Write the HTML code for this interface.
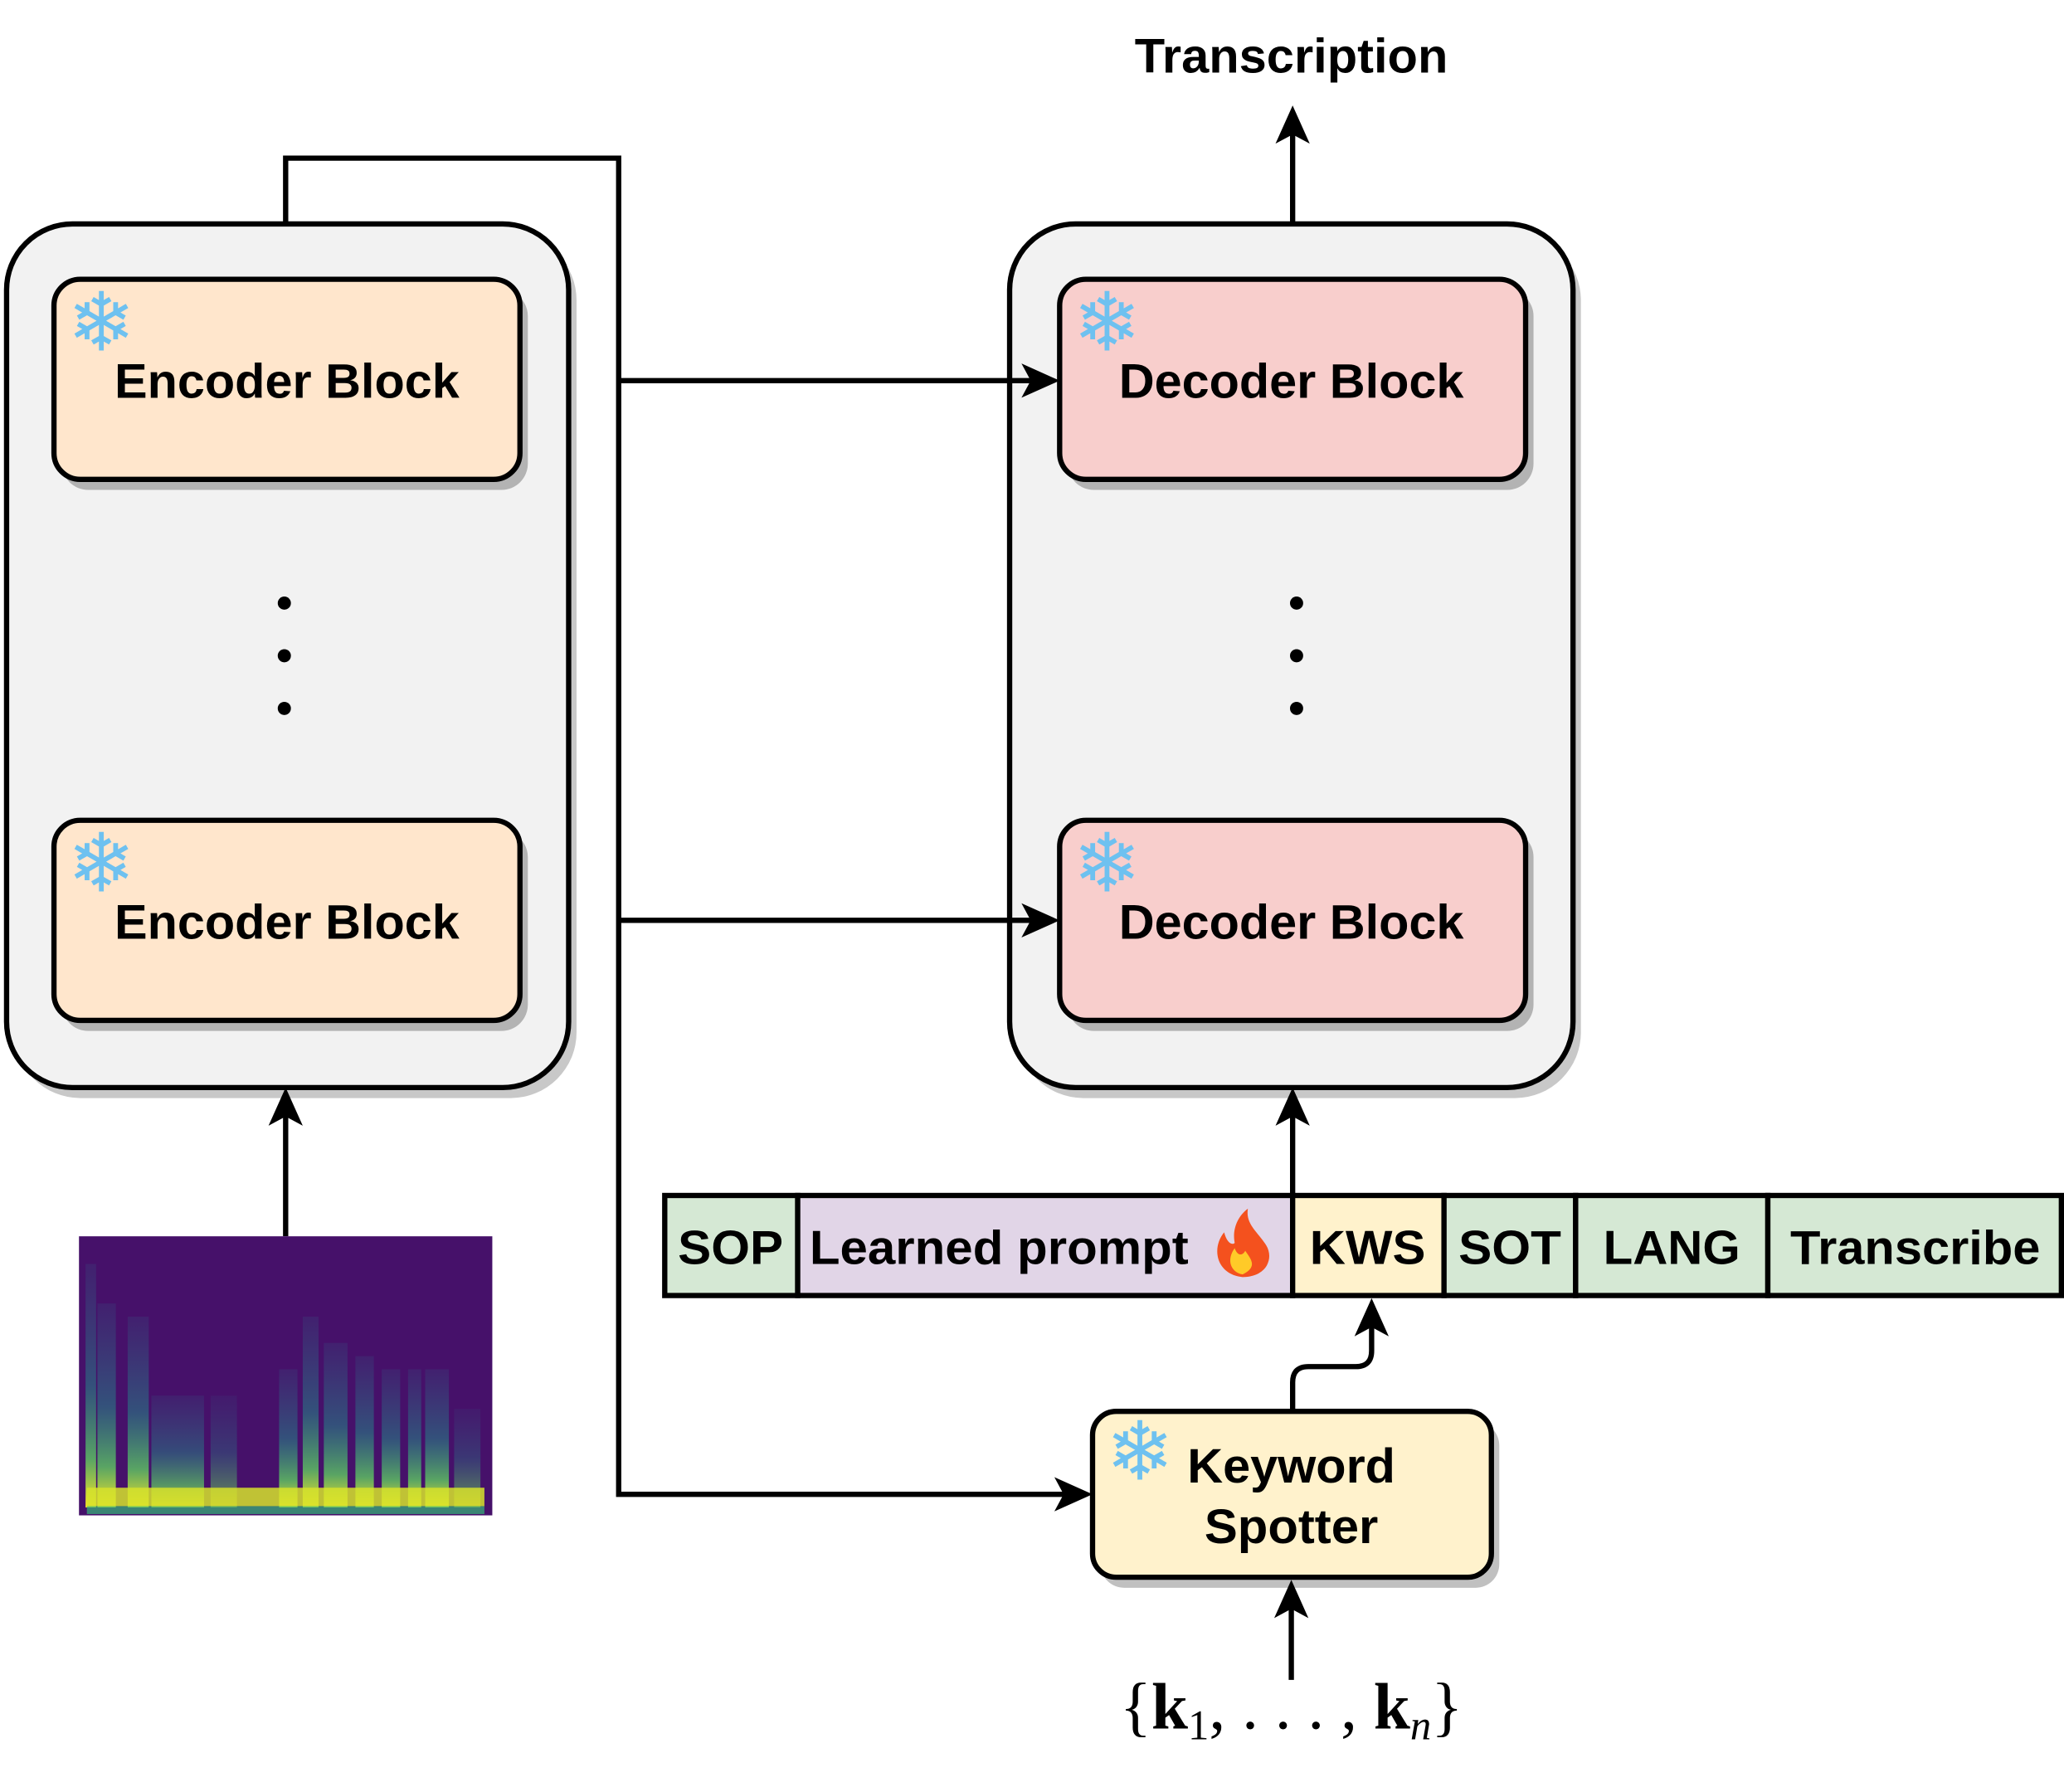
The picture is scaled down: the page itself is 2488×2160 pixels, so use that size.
<!DOCTYPE html>
<html><head><meta charset="utf-8"><style>
html,body{margin:0;padding:0;background:#fff}
svg{display:block}
text{font-family:"Liberation Sans",sans-serif;font-weight:bold;fill:#000}
</style></head><body>
<svg width="2488" height="2160" viewBox="0 0 1568 1361" xmlns="http://www.w3.org/2000/svg">
<defs>
<linearGradient id="col" x1="0" y1="0" x2="0" y2="1">
<stop offset="0" stop-color="#2a788e" stop-opacity="0.15"/>
<stop offset="0.5" stop-color="#21918c" stop-opacity="0.5"/>
<stop offset="0.8" stop-color="#5ec962" stop-opacity="0.8"/>
<stop offset="1" stop-color="#fde725" stop-opacity="1"/>
</linearGradient>
</defs>
<rect x="11" y="178" width="427" height="656" rx="50" fill="#c8c8c8"/>
<rect x="773" y="178" width="428" height="656" rx="50" fill="#c8c8c8"/>
<rect x="5" y="170" width="427" height="656" rx="50" fill="#f2f2f2" stroke="#000" stroke-width="4"/>
<rect x="767" y="170" width="428" height="656" rx="50" fill="#f2f2f2" stroke="#000" stroke-width="4"/>
<rect x="47" y="220" width="354" height="152" rx="20" fill="#b3b3b3"/>
<rect x="47" y="631" width="354" height="152" rx="20" fill="#b3b3b3"/>
<rect x="811" y="220" width="354" height="152" rx="20" fill="#b3b3b3"/>
<rect x="811" y="631" width="354" height="152" rx="20" fill="#b3b3b3"/>
<rect x="836" y="1080" width="303" height="126" rx="18" fill="#c0c0c0"/>
<rect x="41" y="212" width="354" height="152" rx="20" fill="#ffe6cc" stroke="#000" stroke-width="4"/>
<rect x="41" y="623" width="354" height="152" rx="20" fill="#ffe6cc" stroke="#000" stroke-width="4"/>
<rect x="805" y="212" width="354" height="152" rx="20" fill="#f8cecc" stroke="#000" stroke-width="4"/>
<rect x="805" y="623" width="354" height="152" rx="20" fill="#f8cecc" stroke="#000" stroke-width="4"/>
<rect x="830" y="1072" width="303" height="126" rx="18" fill="#fff2cc" stroke="#000" stroke-width="4"/>
<g font-size="37" text-anchor="middle">
<text x="218" y="302" textLength="262" lengthAdjust="spacingAndGlyphs">Encoder Block</text>
<text x="218" y="713" textLength="262" lengthAdjust="spacingAndGlyphs">Encoder Block</text>
<text x="981" y="302" textLength="262" lengthAdjust="spacingAndGlyphs">Decoder Block</text>
<text x="981" y="713" textLength="262" lengthAdjust="spacingAndGlyphs">Decoder Block</text>
<text x="981" y="1126" textLength="158" lengthAdjust="spacingAndGlyphs">Keyword</text>
<text x="981" y="1172" textLength="132" lengthAdjust="spacingAndGlyphs">Spotter</text>
<text x="981" y="55" textLength="238" lengthAdjust="spacingAndGlyphs">Transcription</text>
</g>
<g font-size="62" text-anchor="middle" style="font-weight:normal">
<text x="77" y="266" style="fill:#6ec1f0;font-family:'DejaVu Sans',sans-serif">❄</text>
<text x="77" y="677" style="fill:#6ec1f0;font-family:'DejaVu Sans',sans-serif">❄</text>
<text x="841" y="266" style="fill:#6ec1f0;font-family:'DejaVu Sans',sans-serif">❄</text>
<text x="841" y="677" style="fill:#6ec1f0;font-family:'DejaVu Sans',sans-serif">❄</text>
<text x="866" y="1124" style="fill:#6ec1f0;font-family:'DejaVu Sans',sans-serif">❄</text>
</g>
<g fill="#000">
<circle cx="216" cy="458" r="5"/><circle cx="216" cy="498" r="5"/><circle cx="216" cy="538" r="5"/>
<circle cx="985" cy="458" r="5"/><circle cx="985" cy="498" r="5"/><circle cx="985" cy="538" r="5"/>
</g>
<g fill="none" stroke="#000" stroke-width="4">
<path d="M217,170 V120 H470 V1135 H815"/>
<path d="M470,289 H790"/>
<path d="M470,699 H790"/>
<path d="M982,170 V96"/>
<path d="M982,908 V842"/>
<path d="M982,1072 V1050 Q982,1038 994,1038 H1030 Q1042,1038 1042,1026 V1000"/>
<path d="M981,1276 V1216"/>
<path d="M217,939 V842"/>
</g>
<g fill="#000">
<polygon points="805,289 776,276 783,289 776,302"/>
<polygon points="805,699 776,686 783,699 776,712"/>
<polygon points="830,1135 801,1122 808,1135 801,1148"/>
<polygon points="982,80 969,109 982,102 995,109"/>
<polygon points="982,826 969,855 982,848 995,855"/>
<polygon points="1042,986 1029,1015 1042,1008 1055,1015"/>
<polygon points="981,1200 968,1229 981,1222 994,1229"/>
<polygon points="217,826 204,855 217,848 230,855"/>
</g>
<g stroke="#000" stroke-width="4">
<rect x="505" y="908" width="101" height="76" fill="#d5e8d4"/>
<rect x="606" y="908" width="376" height="76" fill="#e1d5e7"/>
<rect x="982" y="908" width="115" height="76" fill="#fff2cc"/>
<rect x="1097" y="908" width="100" height="76" fill="#d5e8d4"/>
<rect x="1197" y="908" width="146" height="76" fill="#d5e8d4"/>
<rect x="1343" y="908" width="223" height="76" fill="#d5e8d4"/>
</g>
<g font-size="36" text-anchor="middle">
<text x="555" y="960" textLength="80" lengthAdjust="spacingAndGlyphs">SOP</text>
<text x="759" y="960" textLength="288" lengthAdjust="spacingAndGlyphs">Learned prompt</text>
<text x="1039" y="960" textLength="88" lengthAdjust="spacingAndGlyphs">KWS</text>
<text x="1147" y="960" textLength="78" lengthAdjust="spacingAndGlyphs">SOT</text>
<text x="1270" y="960" textLength="104" lengthAdjust="spacingAndGlyphs">LANG</text>
<text x="1455" y="960" textLength="190" lengthAdjust="spacingAndGlyphs">Transcribe</text>
</g>
<path d="M944,970 C924,968 920,948 930,936 C932,944 936,946 938,944 C936,934 940,924 948,918 C946,930 956,936 962,946 C968,956 962,970 944,970 Z" fill="#f4511e"/>
<path d="M944,968 C934,966 932,956 938,948 C940,954 944,954 946,950 C950,956 956,962 944,968 Z" fill="#ffca28"/>
<rect x="60" y="939" width="314" height="212" fill="#46116a"/>
<g fill="url(#col)">
<rect x="65" y="960" width="8" height="185"/>
<rect x="74" y="990" width="14" height="155"/>
<rect x="97" y="1000" width="16" height="145"/>
<rect x="115" y="1060" width="40" height="85" opacity="0.9"/>
<rect x="160" y="1060" width="20" height="85" opacity="0.6"/>
<rect x="212" y="1040" width="14" height="105"/>
<rect x="230" y="1000" width="12" height="145"/>
<rect x="246" y="1020" width="18" height="125"/>
<rect x="270" y="1030" width="14" height="115"/>
<rect x="290" y="1040" width="14" height="105"/>
<rect x="310" y="1040" width="10" height="105"/>
<rect x="323" y="1040" width="18" height="105"/>
<rect x="345" y="1070" width="20" height="75" opacity="0.6"/>
</g>
<rect x="66" y="1130" width="302" height="14" fill="#d6e22b" opacity="0.85"/>
<rect x="66" y="1144" width="302" height="6" fill="#35b779" opacity="0.7"/>
<text x="981" y="1313" text-anchor="middle" font-size="50" style="font-family:'Liberation Serif',serif;font-weight:normal">{<tspan font-weight="bold">k</tspan><tspan font-size="32" dy="8">1</tspan><tspan dy="-8">, . . . , </tspan><tspan font-weight="bold">k</tspan><tspan font-size="32" dy="8" font-style="italic">n</tspan><tspan dy="-8">}</tspan></text>
</svg>
</body></html>
